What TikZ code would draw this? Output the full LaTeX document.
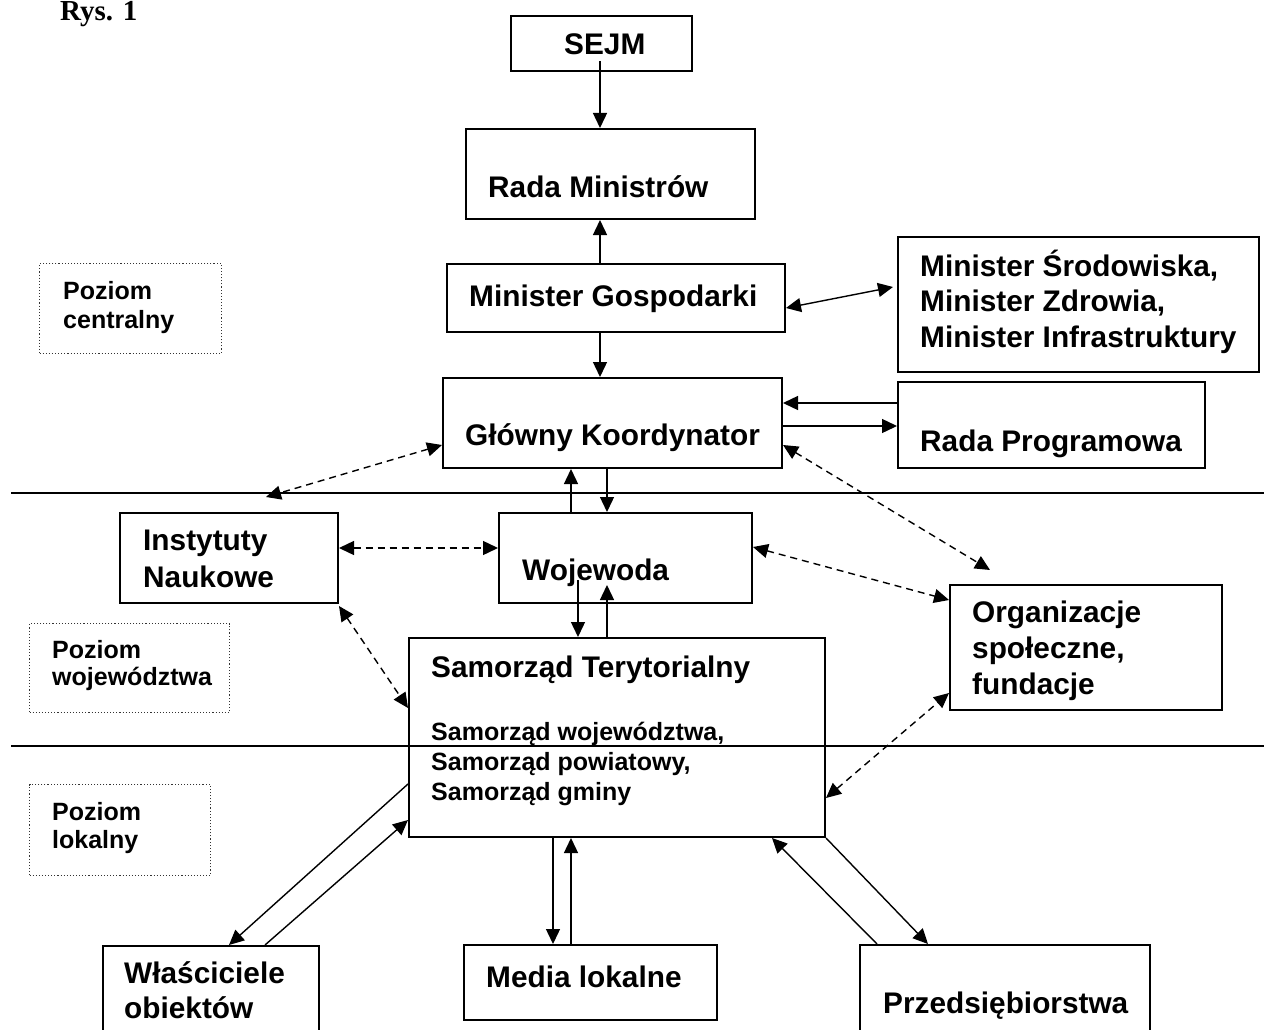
\documentclass[tikz,border=0pt]{standalone}
\usepackage{fontspec}
\setmainfont{Liberation Sans}
\newfontfamily\rysfont{Liberation Serif}
\usetikzlibrary{arrows.meta,calc}
\begin{document}
\begin{tikzpicture}[x=1pt,y=-1pt,
  box/.style={draw, line width=2pt, inner sep=0pt, anchor=north west},
  lvl/.style={draw=black!80, dotted, line width=1.1pt, inner sep=0pt, anchor=north west},
  lbl/.style={anchor=base west, inner sep=0pt, font=\fontsize{29.8}{36}\selectfont\bfseries},
  small/.style={anchor=base west, inner sep=0pt, font=\fontsize{25}{30}\selectfont\bfseries},
  conn/.style={line width=1.4pt, -{Triangle[length=15pt,width=14pt]}},
  conntwo/.style={line width=1.4pt, {Triangle[length=15pt,width=14pt]}-{Triangle[length=15pt,width=14pt]}},
  dconn/.style={conntwo, dash pattern=on 7pt off 5pt},
  sepline/.style={line width=1.4pt}
]
\useasboundingbox (0,0) rectangle (1264,1030);
\clip (0,0) rectangle (1264,1030);
\fill[white] (0,0) rectangle (1264,1030);

% title
\node[anchor=base west, inner sep=0pt, font=\rysfont\bfseries\fontsize{29}{30}\selectfont] (rys) at (60,21) {Rys. 1};

% boxes
\node[box, minimum width=181pt, minimum height=55pt] (sejm) at (510,15) {};
\node[box, minimum width=289pt, minimum height=90pt] (rada) at (465,128) {};
\node[box, minimum width=338pt, minimum height=68pt] (mg) at (446,263) {};
\node[box, minimum width=361pt, minimum height=135pt] (min) at (897,236) {};
\node[box, minimum width=339pt, minimum height=90pt] (gk) at (442,377) {};
\node[box, minimum width=307pt, minimum height=86pt] (rp) at (897,381) {};
\node[box, minimum width=218pt, minimum height=90pt] (inst) at (119,512) {};
\node[box, minimum width=253pt, minimum height=90pt] (woj) at (498,512) {};
\node[box, minimum width=272pt, minimum height=125pt] (org) at (949,584) {};
\node[box, minimum width=416pt, minimum height=199pt] (st) at (408,637) {};
\node[box, minimum width=216pt, minimum height=120pt] (wl) at (102,945) {};
\node[box, minimum width=253pt, minimum height=75pt] (media) at (463,944) {};
\node[box, minimum width=290pt, minimum height=120pt] (przed) at (859,944) {};

% level boxes
\node[lvl, minimum width=182pt, minimum height=90pt] (pc) at (39,263) {};
\node[lvl, minimum width=200pt, minimum height=89pt] (pw) at (29,623) {};
\node[lvl, minimum width=181pt, minimum height=91pt] (pl) at (29,784) {};

% texts
\node[lbl] (tsejm) at (564,55) {SEJM};
\node[lbl] (trada) at (488,197) {Rada Ministrów};
\node[lbl] (tmg) at (469,306) {Minister Gospodarki};
\node[lbl, font=\fontsize{29.8}{35.5}\selectfont\bfseries] (tmin) at (920,276) {\vtop{\hbox{Minister Środowiska,}\hbox{Minister Zdrowia,}\hbox{Minister Infrastruktury}}};
\node[lbl] (tgk) at (465,445) {Główny Koordynator};
\node[lbl] (trp) at (920,451) {Rada Programowa};
\node[lbl, font=\fontsize{29.8}{37}\selectfont\bfseries] (tinst) at (143,550) {\vtop{\hbox{Instytuty}\hbox{Naukowe}}};
\node[lbl] (twoj) at (522,580) {Wojewoda};
\node[lbl, font=\fontsize{29.8}{36}\selectfont\bfseries] (torg) at (972,622) {\vtop{\hbox{Organizacje}\hbox{społeczne,}\hbox{fundacje}}};
\node[lbl] (tst) at (431,677) {Samorząd Terytorialny};
\node[small] (tst2) at (431,740) {\vtop{\hbox{Samorząd województwa,}\hbox{Samorząd powiatowy,}\hbox{Samorząd gminy}}};
\node[lbl, font=\fontsize{29.8}{35}\selectfont\bfseries] (twl) at (124,983) {\vtop{\hbox{Właściciele}\hbox{obiektów}}};
\node[lbl] (tmedia) at (486,987) {Media lokalne};
\node[lbl] (tprzed) at (883,1013) {Przedsiębiorstwa};
\node[small, font=\fontsize{25}{29}\selectfont\bfseries] (tpc) at (63,299) {\vtop{\hbox{Poziom}\hbox{centralny}}};
\node[small, font=\fontsize{25}{27}\selectfont\bfseries] (tpw) at (52,658) {\vtop{\hbox{Poziom}\hbox{województwa}}};
\node[small, font=\fontsize{25}{28}\selectfont\bfseries] (tpl) at (52,820) {\vtop{\hbox{Poziom}\hbox{lokalny}}};

% separator lines
\draw[sepline] (11,493) -- (1264,493);
\draw[sepline] (11,746) -- (1264,746);

% connectors
\draw[conn] ($(sejm.north west)+(90,46)$) -- ($(rada.north west)+(135,0)$);
\draw[conn] ($(mg.north west)+(154,0)$) -- ($(rada.south west)+(135,0)$);
\draw[conntwo] ($(mg.north east)+(0,45)$) -- ($(min.north west)+(-4,51)$);
\draw[conn] ($(mg.south west)+(154,0)$) -- ($(gk.north west)+(158,0)$);
\draw[conn] ($(rp.north west)+(0,22)$) -- ($(gk.north east)+(0,26)$);
\draw[conn] ($(gk.north east)+(0,49)$) -- ($(rp.north west)+(0,45)$);
\draw[dconn] ($(gk.north west)+(0,68)$) -- ($(inst.north west)+(147,-15)$);
\draw[dconn] ($(gk.north east)+(0,68)$) -- ($(org.north west)+(41,-14)$);
\draw[conn] ($(gk.south west)+(165,0)$) -- ($(woj.north west)+(109,0)$);
\draw[conn] ($(woj.north west)+(73,0)$) -- ($(gk.south west)+(129,0)$);
\draw[dconn] ($(inst.north east)+(0,36)$) -- ($(woj.north west)+(0,36)$);
\draw[dconn] ($(woj.north east)+(0,35)$) -- ($(org.north west)+(0,16)$);
\draw[dconn] ($(inst.south east)+(0,2)$) -- ($(st.north west)+(0,71)$);
\draw[conn] ($(woj.north west)+(80,68)$) -- ($(st.north west)+(170,0)$);
\draw[conn] ($(st.north west)+(199,0)$) -- ($(woj.north west)+(109,73)$);
\draw[dconn] ($(st.north east)+(0,161)$) -- ($(org.north west)+(0,109)$);
\draw[conn] ($(st.north west)+(0,147)$) -- ($(wl.north west)+(127,0)$);
\draw[conn] ($(wl.north west)+(163,0)$) -- ($(st.north west)+(0,183)$);
\draw[conn] ($(st.south west)+(145,0)$) -- ($(media.north west)+(90,0)$);
\draw[conn] ($(media.north west)+(108,0)$) -- ($(st.south west)+(163,0)$);
\draw[conn] (st.south east) -- ($(przed.north west)+(69,0)$);
\draw[conn] ($(przed.north west)+(18,0)$) -- ($(st.south west)+(364,0)$);
\end{tikzpicture}
\end{document}
